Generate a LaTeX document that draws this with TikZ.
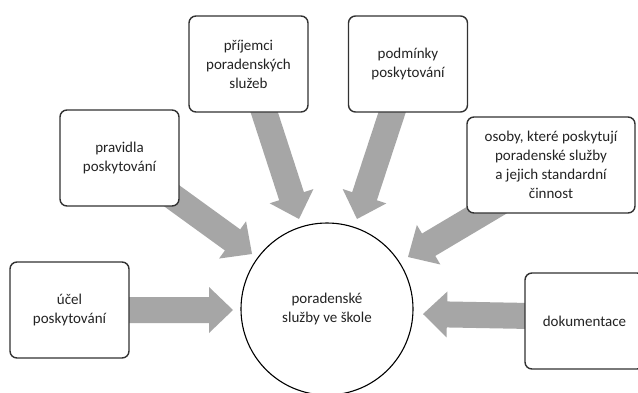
\documentclass[tikz,border=0pt]{standalone}
\usepackage{fontspec}
\setmainfont{Carlito}
\usetikzlibrary{calc,backgrounds}
\definecolor{arrowgray}{RGB}{166,166,166}
\definecolor{boxline}{RGB}{50,50,50}
\definecolor{txt}{RGB}{35,35,35}
\tikzset{
  box/.style={draw=boxline, line width=1.4pt, rounded corners=7pt, fill=white,
    minimum width=119pt, minimum height=96pt, align=center, text=txt,
    font=\fontsize{15}{19}\selectfont, inner sep=2pt},
  hub/.style={circle, draw=black, line width=1.1pt, minimum size=172pt, inner sep=0pt,
    align=center, text=txt, font=\fontsize{15}{19}\selectfont},
  arrowfill/.style={fill=arrowgray}
}
\newcommand\barrowdraw[2]{%
  \path[arrowfill] let \p1=(#1), \p2=(#2),
    \n1={atan2(\y2-\y1,\x2-\x1)}, \n2={veclen(\x2-\x1,\y2-\y1)} in
    ($(\p1)+({\n1+90}:13pt)$)
    -- ($(\p1)+({\n1}:{\n2-24pt})+({\n1+90}:13pt)$)
    -- ($(\p1)+({\n1}:{\n2-24pt})+({\n1+90}:23pt)$)
    -- (\p2)
    -- ($(\p1)+({\n1}:{\n2-24pt})+({\n1-90}:23pt)$)
    -- ($(\p1)+({\n1}:{\n2-24pt})+({\n1-90}:13pt)$)
    -- ($(\p1)+({\n1-90}:13pt)$) -- cycle;%
}
\begin{document}
\begin{tikzpicture}[x=1pt,y=-1pt]
  \useasboundingbox (0,0) rectangle (638,392);
  % nodes
  \node[hub] (hub) at (327,309) {poradenské\\služby ve škole};
  \node[box] (ucel) at (69.5,310) {účel\\poskytování};
  \node[box] (pravidla) at (119.5,158) {pravidla\\poskytování};
  \node[box] (prijemci) at (248.5,64) {příjemci\\poradenských\\služeb};
  \node[box] (podminky) at (408,64) {podmínky\\poskytování};
  \node[box, minimum width=168pt] (osoby) at (551,165) {osoby, které poskytují\\poradenské služby\\a jejich standardní\\činnost};
  \node[box] (dokum) at (584.5,321) {dokumentace};
  % arrow tips
  \coordinate (t1) at (233,310);
  \coordinate (t2) at (252,254);
  \coordinate (t3) at (299,219);
  \coordinate (t4) at (357,219);
  \coordinate (t5) at (408,257);
  \coordinate (t6) at (423,314);
  \coordinate (s5) at (551,172);
  \coordinate (s6) at (584.5,317);
  \begin{scope}[on background layer]
    \fill[white] (0,0) rectangle (638,392);
    \barrowdraw{ucel.center}{t1}
    \barrowdraw{pravidla.center}{t2}
    \barrowdraw{prijemci.center}{t3}
    \barrowdraw{podminky.center}{t4}
    \barrowdraw{s5}{t5}
    \barrowdraw{s6}{t6}
  \end{scope}
\end{tikzpicture}
\end{document}
